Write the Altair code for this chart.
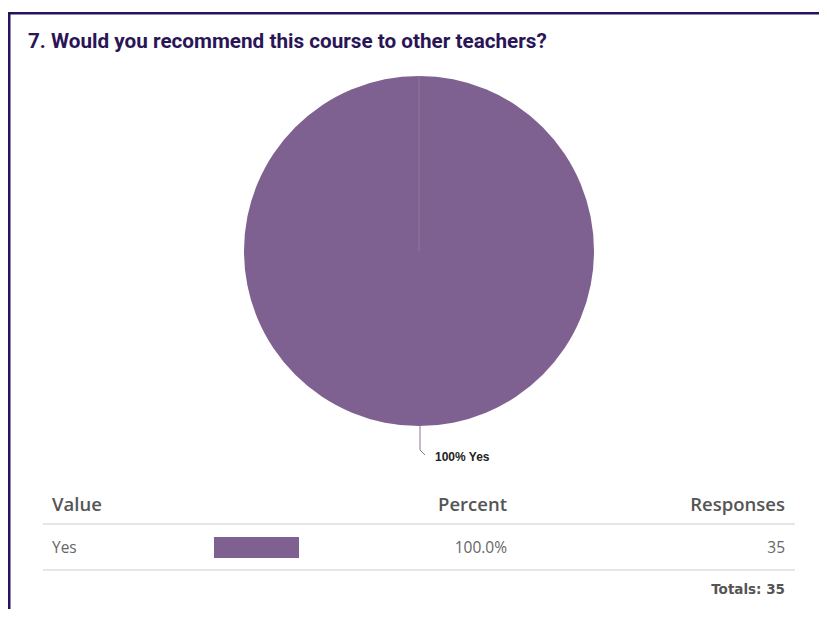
import altair as alt
import pandas as pd

# ---- data ----
title_text = "7. Would you recommend this course to other teachers?"
answers = ["Yes"]
responses = [35]
percents = [100.0]
headers = ["Value", "Percent", "Responses"]
total_label = "Totals: 35"

PURPLE = "#7e6190"
BORDER = "#26135c"

df = pd.DataFrame({"answer": answers, "responses": responses, "percent": percents})
df["pie_label"] = [f"{int(p)}% {a}" for p, a in zip(percents, answers)]
df["pct_text"] = [f"{p:.1f}%" for p in percents]
df["resp_text"] = [str(r) for r in responses]
df["zero"] = 0

hdr = pd.DataFrame({"h": headers})
tot = pd.DataFrame({"t": [total_label]})
one = pd.DataFrame({"k": [0]})

W, H = 811, 601

# border (left + top)
border_top = alt.Chart(one).mark_rect(color=BORDER).encode(
    x=alt.value(0), x2=alt.value(W), y=alt.value(4), y2=alt.value(6.5))
border_left = alt.Chart(one).mark_rect(color=BORDER).encode(
    x=alt.value(0), x2=alt.value(2.5), y=alt.value(4), y2=alt.value(H))

title = alt.Chart(one).mark_text(
    text=title_text, font="Roboto", fontWeight="bold", fontSize=20.7,
    color="#2a1656", align="left", baseline="alphabetic").encode(
    x=alt.value(20), y=alt.value(40))

pie = alt.Chart(df).mark_arc(radius=175, color=PURPLE).encode(
    theta=alt.Theta("responses:Q", stack=True),
    x=alt.value(411), y=alt.value(243))

seam = alt.Chart(one).mark_rule(color="white", opacity=0.15, strokeWidth=1).encode(
    x=alt.value(411), y=alt.value(68), y2=alt.value(243))

leader = alt.Chart(one).mark_rule(color="#8a7698", strokeWidth=1).encode(
    x=alt.value(412), y=alt.value(418), y2=alt.value(442))
leader2 = alt.Chart(one).mark_rule(color="#8a7698", strokeWidth=1).encode(
    x=alt.value(412), x2=alt.value(417), y=alt.value(442), y2=alt.value(447))

pie_label = alt.Chart(df).mark_text(
    font="Liberation Sans", fontWeight="bold", fontSize=12, color="#222",
    align="left", baseline="middle").encode(
    text="pie_label:N", x=alt.value(427), y=alt.value(449))

# table headers
hdr_x = {"Value": (44, "left"), "Percent": (499, "right"), "Responses": (777, "right")}
hdr_layers = []
for h in headers:
    xpos, al = hdr_x[h]
    hdr_layers.append(
        alt.Chart(hdr).transform_filter(alt.datum.h == h).mark_text(
            font="Open Sans", fontWeight=600, fontSize=18.5, color="#555555",
            align=al, baseline="alphabetic").encode(
            text="h:N", x=alt.value(xpos), y=alt.value(503)))

line1 = alt.Chart(one).mark_rule(color="#e6e6e6", strokeWidth=2).encode(
    x=alt.value(35), x2=alt.value(787), y=alt.value(516))
line2 = alt.Chart(one).mark_rule(color="#e6e6e6", strokeWidth=2).encode(
    x=alt.value(35), x2=alt.value(787), y=alt.value(562))

row_answer = alt.Chart(df).mark_text(
    font="Open Sans", fontSize=15.5, color="#666666", align="left",
    baseline="alphabetic").encode(text="answer:N", x=alt.value(44), y=alt.value(545))

bar = alt.Chart(df).mark_rect(color=PURPLE).encode(
    x=alt.X("zero:Q", scale=alt.Scale(domain=[0, 100], range=[206, 291]), axis=None),
    x2="percent:Q",
    y=alt.value(529), y2=alt.value(550))

row_pct = alt.Chart(df).mark_text(
    font="Open Sans", fontSize=15.5, color="#666666", align="right",
    baseline="alphabetic").encode(text="pct_text:N", x=alt.value(499), y=alt.value(545))

row_resp = alt.Chart(df).mark_text(
    font="Open Sans", fontSize=15.5, color="#666666", align="right",
    baseline="alphabetic").encode(text="resp_text:N", x=alt.value(777), y=alt.value(545))

totals = alt.Chart(tot).mark_text(
    font="DejaVu Sans", fontWeight="bold", fontSize=13.5, color="#555555", align="right",
    baseline="alphabetic").encode(text="t:N", x=alt.value(777), y=alt.value(586))

chart = alt.layer(
    border_top, border_left, title, pie, seam, leader, leader2, pie_label,
    *hdr_layers, line1, line2, row_answer, bar, row_pct, row_resp, totals
).properties(
    width=W, height=H, autosize=alt.AutoSizeParams(type="none"), padding=0,
    background="white"
).configure_view(stroke=None)

chart.save("out.html", embed_options={"renderer": "svg", "actions": False})
